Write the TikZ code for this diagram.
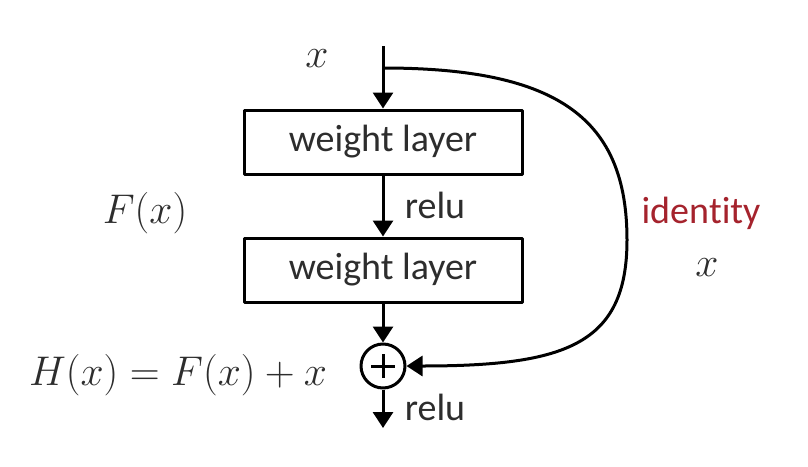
\documentclass[tikz,border=0pt]{standalone}
\usepackage{fontspec}
\setmainfont{Carlito}[Ligatures=NoCommon]
\usetikzlibrary{arrows.meta}
\definecolor{idred}{RGB}{165,35,45}
\definecolor{ink}{RGB}{45,45,45}
\begin{document}
\begin{tikzpicture}[x=0.5pt,y=-0.5pt,line join=round,line width=1.5pt,>={Triangle[length=8pt,width=10pt]}]
\tikzset{layer/.style={draw,minimum width=139pt,minimum height=32pt,inner sep=0pt,text=ink,font=\fontsize{19}{23}\selectfont},
  txt/.style={inner sep=0pt,text=ink,font=\fontsize{19}{23}\selectfont},
  mth/.style={inner sep=0pt,text=ink,font=\fontsize{21.5}{25}\selectfont},
  addop/.style={draw,circle,minimum size=22pt,inner sep=0pt}}
\useasboundingbox (0,0) rectangle (808,466);
% main path
\coordinate (in) at (383,46);
\coordinate (split) at (383,68);
\node[layer] (w1) at (383,142) {weight layer};
\node[layer] (w2) at (383,270) {weight layer};
\node[addop] (add) at (383,366) {};
\coordinate (out) at (383,428);
\draw (add.center) +(-12,0) -- +(12,0);
\draw (add.center) +(0,-12) -- +(0,12);
\draw[->] (in) -- (w1);
\draw[->] (w1) -- (w2);
\draw[->] (w2) -- (add);
\draw[->] (add) -- (out);
% shortcut
\draw[->] (split) .. controls (560,68) and (627,120) .. (627,240) .. controls (627,345) and (565,366) .. (add.east);
% labels
\node[txt] (r1) at (435,205) {relu};
\node[txt] (r2) at (435,407) {relu};
\node[mth] (xin) at (317,59) {$x$};
\node[mth] (fx) at (145,213) {$F(x)$};
\node[mth] (hx) at (178,375) {$H(x)=F(x)+x$};
\node[txt,text=idred] (id) at (701,213) {iden\kern0pt tity};
\node[mth] (xid) at (707,268) {$x$};
\end{tikzpicture}
\end{document}
